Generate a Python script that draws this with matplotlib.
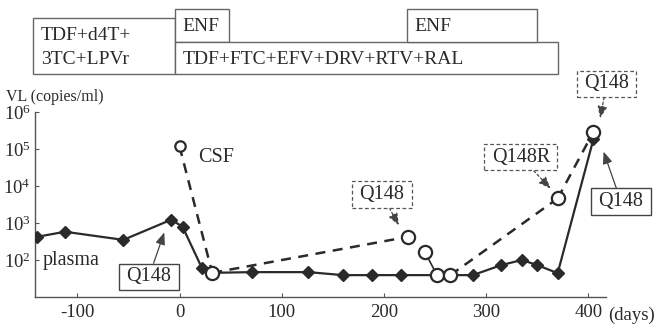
import matplotlib
matplotlib.use("Agg")
import matplotlib.pyplot as plt
from matplotlib.patches import Rectangle
from matplotlib.path import Path
from matplotlib.transforms import blended_transform_factory

plt.rcParams['font.family'] = ['Liberation Serif', 'DejaVu Serif']
plt.rcParams['mathtext.fontset'] = 'custom'
plt.rcParams['mathtext.rm'] = 'Liberation Serif'
plt.rcParams['mathtext.it'] = 'Liberation Serif:italic'

# ---- data ----
plasma_days = [-139, -112, -55, -8, 3, 22, 32, 71, 126, 160, 188, 217, 287, 315, 335, 350, 370, 405]
plasma_vl = [425, 580, 350, 1230, 790, 60, 45, 47, 47, 39, 39, 39, 39, 73, 100, 73, 44, 185000]

csf_days = [0, 32, 224, 240, 252, 265, 370, 405]
csf_vl = [118000, 45, 425, 165, 39, 39, 4600, 290000]

# treatment periods (days): label, start, end, row
reg_names = ["TDF+d4T+\n3TC+LPVr", "ENF", "TDF+FTC+EFV+DRV+RTV+RAL", "ENF"]
reg_start = [-143, -4, -4, 223]
reg_end = [-4, 48, 370, 350]
reg_row = ["tall", "top", "bottom", "top"]

xticks = [-100, 0, 100, 200, 300, 400]
xtick_labels = ["-100", "0", "100", "200", "300", "400"]
yticks = [1e2, 1e3, 1e4, 1e5, 1e6]
ytick_labels = [r"$\mathregular{10^{2}}$", r"$\mathregular{10^{3}}$", r"$\mathregular{10^{4}}$",
                r"$\mathregular{10^{5}}$", r"$\mathregular{10^{6}}$"]

ink = "#2a2a2a"
W, H = 654, 327
fig = plt.figure(figsize=(6.54, 3.27), dpi=100)

# ---- main axes ----
ax = fig.add_axes([35 / W, 1 - 297 / H, (606 - 35) / W, (297 - 112) / H])
ax.set_yscale('log')
ax.set_xlim(-141.4, 417.3)
ax.set_ylim(10, 1e6)
for s in ['top', 'right']:
    ax.spines[s].set_visible(False)
for s in ['left', 'bottom']:
    ax.spines[s].set_color("#555555")
    ax.spines[s].set_linewidth(1.0)
ax.set_xticks(xticks)
ax.set_xticklabels(xtick_labels)
ax.set_yticks(yticks)
ax.set_yticklabels(ytick_labels)
ax.minorticks_off()
ax.tick_params(axis='both', direction='in', length=3, color="#555555", labelsize=13.5,
               labelcolor=ink, pad=5)
ax.tick_params(axis='y', pad=3)

# plasma
ax.plot(plasma_days, plasma_vl, '-', color=ink, lw=1.6, marker='D', ms=6.5,
        mfc=ink, mec=ink, zorder=3)

# CSF line segments
def seg(i, j, ls):
    ax.plot([csf_days[i], csf_days[j]], [csf_vl[i], csf_vl[j]], ls, color=ink,
            lw=1.8 if ls == '--' else 1.2, dashes=(4, 3) if ls == '--' else (None, None),
            zorder=2)

seg(0, 1, '--')
seg(1, 2, '--')
seg(3, 4, '-')
seg(5, 6, '--')
seg(6, 7, '--')
ax.plot(csf_days[1:], csf_vl[1:], 'o', ms=9.5, mfc='white', mec=ink, mew=1.6, zorder=4)
ax.plot(csf_days[:1], csf_vl[:1], 'o', ms=7.5, mfc='white', mec=ink, mew=1.6, zorder=4)

ax.text(18, 6e4, "CSF", fontsize=14.5, color=ink, va='center', ha='left')
ax.text(-134, 100, "plasma", fontsize=14.5, color=ink, va='center', ha='left')


def label_box(x0, y0, width, height, mutation_size):
    px = 0.36 * mutation_size
    py = 0.18 * mutation_size
    x0, y0 = x0 - px, y0 - py
    x1, y1 = x0 + width + 2 * px, y0 + height + 2 * py
    return Path([(x0, y0), (x1, y0), (x1, y1), (x0, y1), (x0, y0)], closed=True)


solid_box = dict(boxstyle=label_box, fc='white', ec="#444444", lw=1.0)
dash_box = dict(boxstyle=label_box, fc='white', ec="#555555", lw=0.9, ls=(0, (3, 2)))
solid_arrow = dict(arrowstyle='-|>,head_length=0.5,head_width=0.2', color="#444444", lw=0.9,
                   shrinkA=0, shrinkB=2)
dash_arrow = dict(arrowstyle='-|>,head_length=0.5,head_width=0.2', color="#444444", lw=0.9,
                  ls=(0, (2, 2)), shrinkA=0, shrinkB=2)

fs = 14.5
ax.annotate("Q148", xy=(-14, 655), xytext=(-30, 35), fontsize=fs, color=ink,
            ha='center', va='center', bbox=solid_box, arrowprops=solid_arrow,
            annotation_clip=False, zorder=5)
ax.annotate("Q148", xy=(216, 740), xytext=(198, 5900), fontsize=fs, color=ink,
            ha='center', va='center', bbox=dash_box, arrowprops=dash_arrow,
            annotation_clip=False, zorder=5)
ax.annotate("Q148R", xy=(365, 7500), xytext=(334, 60000), fontsize=fs, color=ink,
            ha='center', va='center', bbox=dash_box, arrowprops=dash_arrow,
            annotation_clip=False, zorder=5)
ax.annotate("Q148", xy=(411, 5.7e5), xytext=(418, 5.8e6), fontsize=fs, color=ink,
            ha='center', va='center', bbox=dash_box, arrowprops=dash_arrow,
            annotation_clip=False, zorder=5)
ax.annotate("Q148", xy=(414, 1.0e5), xytext=(432, 3800), fontsize=fs, color=ink,
            ha='center', va='center', bbox=solid_box, arrowprops=solid_arrow,
            annotation_clip=False, zorder=5)

trans = blended_transform_factory(ax.transData, ax.transAxes)
ax.annotate("(days)", xy=(400, 0), xycoords=trans, xytext=(14, -13),
            textcoords='offset points', fontsize=13.5, color=ink, ha='left', va='center',
            annotation_clip=False)

fig.text(6 / W, 1 - 97 / H, "VL (copies/ml)", fontsize=11.5, color=ink, ha='left', va='center')

# ---- treatment boxes ----
tax = fig.add_axes([0, 1 - 80 / H, 1, 80 / H])
tax.set_xlim((0 - 179.5) / 1.022, (W - 179.5) / 1.022)
tax.set_ylim(80, 0)
tax.axis('off')
rows = {"tall": (18, 74), "top": (9, 42), "bottom": (42, 74)}
for name, s, e, r in zip(reg_names, reg_start, reg_end, reg_row):
    y0, y1 = rows[r]
    tax.add_patch(Rectangle((s, y0), e - s, y1 - y0, fc='white', ec="#666666", lw=1.0))
    if "\n" in name:
        l1, l2 = name.split("\n")
        tax.text(s + 7.5, 35, l1, fontsize=14, color=ink, ha='left', va='center')
        tax.text(s + 7.5, 60, l2, fontsize=14, color=ink, ha='left', va='center')
    else:
        yc = (y0 + y1) / 2 + 1
        tax.text(s + 7, yc, name, fontsize=14, color=ink, ha='left', va='center')

fig.savefig("out.png", dpi=100)
